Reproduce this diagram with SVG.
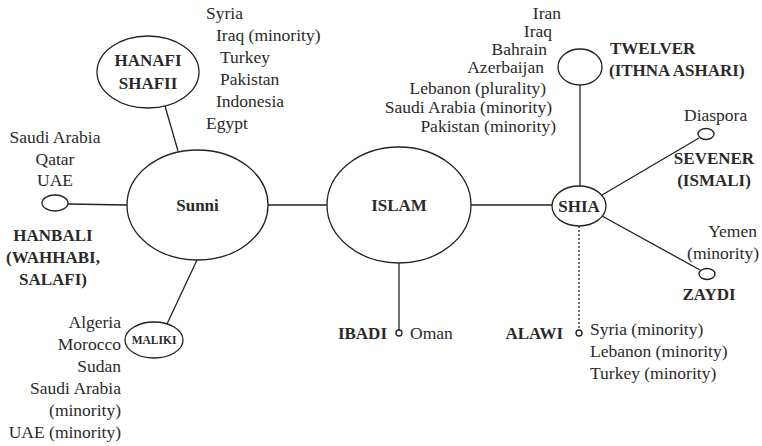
<svg xmlns="http://www.w3.org/2000/svg" width="762" height="446" viewBox="0 0 762 446">
<style>
.bg{fill:#fff}
.n{fill:#fff;stroke:#222;stroke-width:1.3}
.l{stroke:#222;stroke-width:1.3;fill:none}
.d{stroke:#222;stroke-width:1.3;fill:none;stroke-dasharray:2 2}
.t{font-family:"Liberation Serif",serif;font-size:17.5px;fill:#2a2a2a}
.b{font-family:"Liberation Serif",serif;font-size:17px;font-weight:bold;fill:#2a2a2a}
.s{font-family:"Liberation Serif",serif;font-size:11.5px;font-weight:bold;fill:#2a2a2a}
.m{text-anchor:middle}
.e{text-anchor:end}
</style>
<rect class="bg" x="0" y="0" width="762" height="446"/>
<g id="connectors">
<line class="l" x1="165" y1="106" x2="178" y2="151"/>
<line class="l" x1="68" y1="204" x2="127" y2="205"/>
<line class="l" x1="197" y1="260" x2="167" y2="324"/>
<line class="l" x1="268" y1="205" x2="327" y2="205"/>
<line class="l" x1="471" y1="205" x2="553" y2="205"/>
<line class="l" x1="399" y1="263" x2="399" y2="330"/>
<line class="l" x1="580" y1="85" x2="580" y2="186"/>
<line class="l" x1="602" y1="195" x2="699" y2="138"/>
<line class="l" x1="602" y1="216" x2="700" y2="270"/>
<line class="d" x1="579" y1="226" x2="579" y2="330"/>
</g>
<g id="sunni">
<ellipse class="n" cx="197.5" cy="205" rx="70.5" ry="55"/>
<text class="b m" x="197.5" y="211">Sunni</text>
</g>
<g id="islam">
<ellipse class="n" cx="399" cy="205" rx="72" ry="58"/>
<text class="b m" x="399" y="211">ISLAM</text>
</g>
<g id="shia">
<ellipse class="n" cx="579" cy="206" rx="27" ry="20"/>
<text class="b m" x="579" y="212">SHIA</text>
</g>
<g id="hanafi">
<ellipse class="n" cx="148" cy="72" rx="51" ry="36"/>
<text class="b m" x="148" y="66">HANAFI</text>
<text class="b m" x="148" y="89">SHAFII</text>
<text class="t" x="206" y="19">Syria</text>
<text class="t" x="216" y="41">Iraq (minority)</text>
<text class="t" x="220" y="63">Turkey</text>
<text class="t" x="220" y="85">Pakistan</text>
<text class="t" x="216" y="107">Indonesia</text>
<text class="t" x="206" y="129">Egypt</text>
</g>
<g id="hanbali">
<ellipse class="n" cx="55" cy="203" rx="13" ry="8"/>
<text class="t m" x="55" y="143">Saudi Arabia</text>
<text class="t m" x="55" y="165">Qatar</text>
<text class="t m" x="55" y="186">UAE</text>
<text class="b m" x="53" y="241">HANBALI</text>
<text class="b m" x="53" y="263">(WAHHABI,</text>
<text class="b m" x="53" y="285">SALAFI)</text>
</g>
<g id="maliki">
<ellipse class="n" cx="154" cy="340" rx="29" ry="18"/>
<text class="s m" x="154" y="344">MALIKI</text>
<text class="t e" x="121" y="328">Algeria</text>
<text class="t e" x="121" y="350">Morocco</text>
<text class="t e" x="121" y="372">Sudan</text>
<text class="t e" x="121" y="394">Saudi Arabia</text>
<text class="t e" x="121" y="416">(minority)</text>
<text class="t e" x="121" y="438">UAE (minority)</text>
</g>
<g id="ibadi">
<circle class="n" cx="399" cy="333" r="3"/>
<text class="b e" x="387" y="339">IBADI</text>
<text class="t" x="410" y="339">Oman</text>
</g>
<g id="twelver">
<ellipse class="n" cx="580" cy="67" rx="22" ry="18"/>
<text class="b" x="610" y="54">TWELVER</text>
<text class="b" x="609" y="76">(ITHNA ASHARI)</text>
<text class="t e" x="561" y="19">Iran</text>
<text class="t e" x="552" y="37">Iraq</text>
<text class="t e" x="547" y="55">Bahrain</text>
<text class="t e" x="544" y="73">Azerbaijan</text>
<text class="t e" x="546" y="94">Lebanon (plurality)</text>
<text class="t e" x="552" y="113">Saudi Arabia (minority)</text>
<text class="t e" x="556" y="132">Pakistan (minority)</text>
</g>
<g id="sevener">
<ellipse class="n" cx="706" cy="134" rx="8" ry="5.5"/>
<text class="t" x="684" y="121">Diaspora</text>
<text class="b m" x="714" y="164">SEVENER</text>
<text class="b m" x="714" y="186">(ISMALI)</text>
</g>
<g id="zaydi">
<ellipse class="n" cx="707" cy="274" rx="8" ry="5.5"/>
<text class="t e" x="757" y="237">Yemen</text>
<text class="t e" x="759" y="259">(minority)</text>
<text class="b m" x="709" y="300">ZAYDI</text>
</g>
<g id="alawi">
<circle class="n" cx="579" cy="333" r="3"/>
<text class="b e" x="563" y="339">ALAWI</text>
<text class="t" x="590" y="335">Syria (minority)</text>
<text class="t" x="590" y="357">Lebanon (minority)</text>
<text class="t" x="590" y="379">Turkey (minority)</text>
</g>
</svg>
